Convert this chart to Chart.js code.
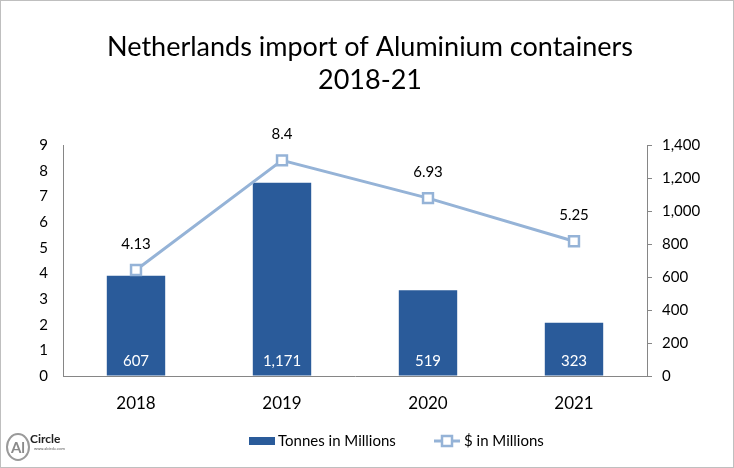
<!DOCTYPE html>
<html><head><meta charset="utf-8">
<script src="https://cdn.jsdelivr.net/npm/chart.js@4"></script>
<style>html,body{margin:0;padding:0;background:#fff}#wrap{position:relative;width:734px;height:468px}</style>
</head><body><div id="wrap"><canvas id="c" width="734" height="468"></canvas></div>
<script>
const categories = ['2018', '2019', '2020', '2021'];
const tonnesValues = [607, 1171, 519, 323];
const dollarValues = [4.13, 8.4, 6.93, 5.25];
const dollarLabels = ['4.13', '8.4', '6.93', '5.25'];
const leftAxisMax = 9;
const rightAxisMax = 1400;
const titleLines = ['Netherlands import of Aluminium containers', '2018-21'];
const legendNames = ['Tonnes in Millions', '$ in Millions'];

const FONT = 'Lato, "Open Sans", sans-serif';
const BAR = '#2a5b9a';
const LINE = '#95b3d7';
const AXIS = '#868686';

const decor = {
  id: 'decor',
  beforeDraw(chart) {
    const ctx = chart.ctx;
    ctx.save();
    ctx.fillStyle = '#fff';
    ctx.fillRect(0, 0, chart.width, chart.height);
    ctx.restore();
  },
  afterDatasetsDraw(chart) {
    const ctx = chart.ctx;
    ctx.save();
    ctx.textAlign = 'center';
    ctx.textBaseline = 'middle';
    chart.data.datasets.forEach((ds, di) => {
      const meta = chart.getDatasetMeta(di);
      meta.data.forEach((el, i) => {
        if (ds.type === 'bar') {
          ctx.fillStyle = '#fff';
          ctx.font = '15px ' + FONT;
          ctx.fillText(tonnesValues[i].toLocaleString('en-US'), el.x, chart.chartArea.bottom - 15);
        } else {
          ctx.fillStyle = '#000';
          ctx.font = '15px ' + FONT;
          ctx.fillText(dollarLabels[i], el.x, el.y - 26);
        }
      });
    });
    ctx.restore();
  },
  afterDraw(chart) {
    const ctx = chart.ctx;
    ctx.save();
    // title
    ctx.fillStyle = '#000';
    ctx.textAlign = 'center';
    ctx.textBaseline = 'middle';
    ctx.font = '27px ' + FONT;
    ctx.fillText(titleLines[0], 370, 47);
    ctx.fillText(titleLines[1], 370, 80);
    // legend
    const ly = 441;
    ctx.fillStyle = BAR;
    ctx.fillRect(249, ly - 4, 26, 8);
    ctx.fillStyle = '#000';
    ctx.textAlign = 'left';
    ctx.font = '15px ' + FONT;
    ctx.fillText(legendNames[0], 278, ly);
    ctx.strokeStyle = LINE;
    ctx.lineWidth = 3;
    ctx.beginPath(); ctx.moveTo(434, ly); ctx.lineTo(460, ly); ctx.stroke();
    ctx.fillStyle = '#fff';
    ctx.lineWidth = 2.5;
    ctx.fillRect(442, ly - 5, 10, 10);
    ctx.strokeRect(442, ly - 5, 10, 10);
    ctx.fillStyle = '#000';
    ctx.fillText(legendNames[1], 464, ly);
    // logo
    ctx.strokeStyle = '#9a9a9a';
    ctx.lineWidth = 2;
    ctx.beginPath(); ctx.ellipse(18, 447, 11, 13, 0, 0, Math.PI * 2); ctx.stroke();
    ctx.fillStyle = '#8a8a8a';
    ctx.textAlign = 'center';
    ctx.font = 'bold 15px ' + FONT;
    ctx.fillText('Al', 18, 448);
    ctx.fillStyle = '#222';
    ctx.textAlign = 'left';
    ctx.font = 'bold 12px ' + FONT;
    ctx.fillText('Circle', 30, 439);
    ctx.font = '4px ' + FONT;
    ctx.fillStyle = '#555';
    ctx.fillText('www.alcircle.com', 34, 449);
    // border
    ctx.strokeStyle = '#bfbfbf';
    ctx.lineWidth = 1;
    ctx.strokeRect(0.5, 0.5, chart.width - 1, chart.height - 1);
    ctx.restore();
  }
};

new Chart(document.getElementById('c'), {
  type: 'bar',
  data: {
    labels: categories,
    datasets: [
      {
        type: 'line', label: legendNames[1], data: dollarValues, yAxisID: 'yL',
        borderColor: LINE, borderWidth: 3, tension: 0,
        pointStyle: 'rect', pointRadius: 7, pointHoverRadius: 7,
        pointBackgroundColor: '#fff', pointBorderColor: LINE, pointBorderWidth: 2.5,
        order: 0
      },
      {
        type: 'bar', label: legendNames[0], data: tonnesValues, yAxisID: 'yR',
        backgroundColor: BAR, barPercentage: 0.4, categoryPercentage: 1,
        order: 1
      }
    ]
  },
  options: {
    responsive: false,
    animation: false,
    devicePixelRatio: 1,
    layout: { padding: { top: 145, left: 0, right: 0, bottom: 0 } },
    plugins: { legend: { display: false }, title: { display: false }, tooltip: { enabled: false } },
    scales: {
      x: {
        grid: { display: false, drawTicks: false },
        border: { display: true, color: AXIS, width: 1 },
        ticks: { color: '#000', font: { size: 17, family: FONT }, padding: 17 },
        afterFit(s) { s.height = 92; }
      },
      yL: {
        position: 'left', min: 0, max: leftAxisMax,
        grid: { display: true, drawOnChartArea: false, drawTicks: false },
        border: { display: true, color: AXIS, width: 1 },
        ticks: { stepSize: 1, color: '#000', font: { size: 15, family: FONT }, padding: 15 },
        afterFit(s) { s.width = 63; }
      },
      yR: {
        position: 'right', min: 0, max: rightAxisMax,
        grid: { display: true, drawOnChartArea: false, drawTicks: true, tickLength: 5, color: AXIS },
        border: { display: true, color: AXIS, width: 1 },
        ticks: { stepSize: 200, color: '#000', font: { size: 15, family: FONT }, padding: 10,
          callback: v => Number(v).toLocaleString('en-US') },
        afterFit(s) { s.width = 87; }
      }
    }
  },
  plugins: [decor]
});
</script></body></html>
